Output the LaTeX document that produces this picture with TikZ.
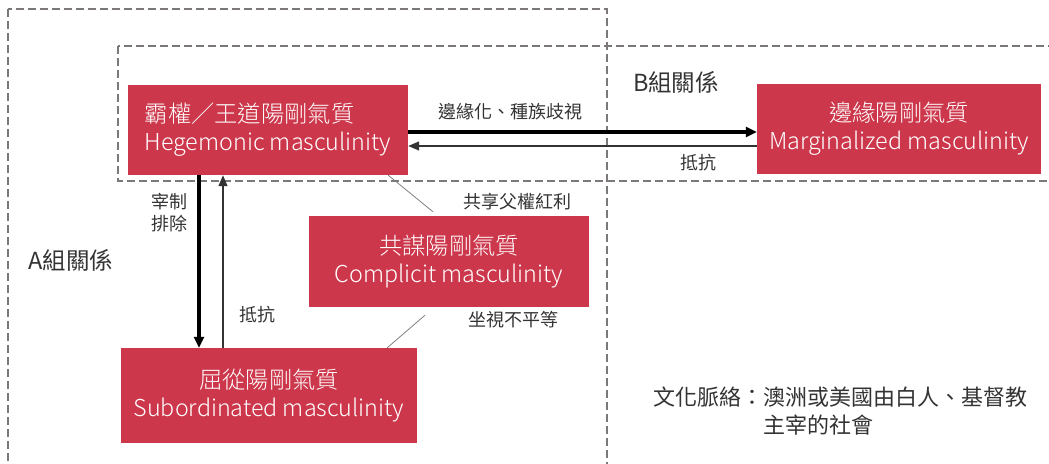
\documentclass[tikz,border=0pt]{standalone}
\usepackage{fontspec}
\setmainfont{Noto Sans CJK TC}
\newfontfamily\lightfont{Noto Sans CJK TC Light}
\usetikzlibrary{arrows.meta}
\definecolor{boxred}{RGB}{205,55,75}
\definecolor{txtgray}{RGB}{51,51,51}
\definecolor{dashgray}{RGB}{125,120,120}

\begin{document}
\begin{tikzpicture} [x=1pt, y=-1pt,
  mbox/.style={fill=boxred, text=white, minimum width=#1, minimum height=90pt, align=center, inner sep=0pt, font=\lightfont\fontsize{23.3}{28}\selectfont},
  lbl/.style={text=txtgray, font=\fontsize{18}{22}\selectfont, inner sep=0pt},
  grp/.style={dashgray, line width=1.5pt, dash pattern=on 8pt off 4pt},
  fat/.style={black, line width=3.5pt, -{Triangle[length=11pt,width=10pt]}},
  slim/.style={txtgray, line width=1.3pt, -{Triangle[length=11pt,width=9pt]}},
  link/.style={gray, line width=.8pt}]
\path[clip] (0,0) rectangle (1049,463);
% group frames
\draw[grp] (8,9) rectangle (607,480);
\draw[grp] (118,46) rectangle (1070,181);
\node[lbl, font=\fontsize{23.5}{28}\selectfont] (grpA) at (71,260) {A組關係};
\node[lbl, font=\fontsize{23.5}{28}\selectfont] (grpB) at (676,82) {B組關係};
% the four masculinities
\node[mbox=280pt, align=left] (hege) at (268,130) {霸權／王道陽剛氣質\\Hegemonic masculinity};
\node[mbox=284pt] (marg) at (899,129) {邊緣陽剛氣質\\Marginalized masculinity};
\node[mbox=280pt, minimum height=91pt] (comp) at (449,261.5) {共謀陽剛氣質\\Complicit masculinity};
\node[mbox=296pt, minimum height=95pt] (sub) at (269,395.5) {屈從陽剛氣質\\Subordinated masculinity};
% relations
\draw[fat] ([yshift=-2pt]hege.east) -- ([yshift=-2pt]hege.east -| marg.west);
\draw[slim] ([yshift=-17pt]marg.west) -- ([yshift=-17pt]marg.west -| hege.east);
\node[lbl] (marglbl) at (510,112) {邊緣化、種族歧視};
\node[lbl] (resB) at (698,163) {抵抗};
\draw[fat] ([xshift=-69pt]hege.south) -- ([xshift=-69pt]hege.south |- sub.north);
\draw[slim] ([xshift=-46pt]sub.north) -- ([xshift=-46pt]sub.north |- hege.south);
\node[lbl, align=center] (domlbl) at (169,213) {宰制\\排除};
\node[lbl] (resA) at (257,315) {抵抗};
\draw[link] ([xshift=-20pt]hege.south east) -- ([xshift=-16pt,yshift=4pt]comp.north);
\draw[link] ([xshift=-24pt,yshift=-8pt]comp.south) -- ([xshift=-30pt]sub.north east);
\node[lbl] (sharelbl) at (517,202) {共享父權紅利};
\node[lbl] (watchlbl) at (513,320) {坐視不平等};
% context
\node[lbl, font=\fontsize{22}{28}\selectfont, anchor=base west] (ctx) at (653,405) {文化脈絡：\parbox[t]{290pt}{澳洲或美國由白人、基督教\\主宰的社會}};
\end{tikzpicture}
\end{document}
